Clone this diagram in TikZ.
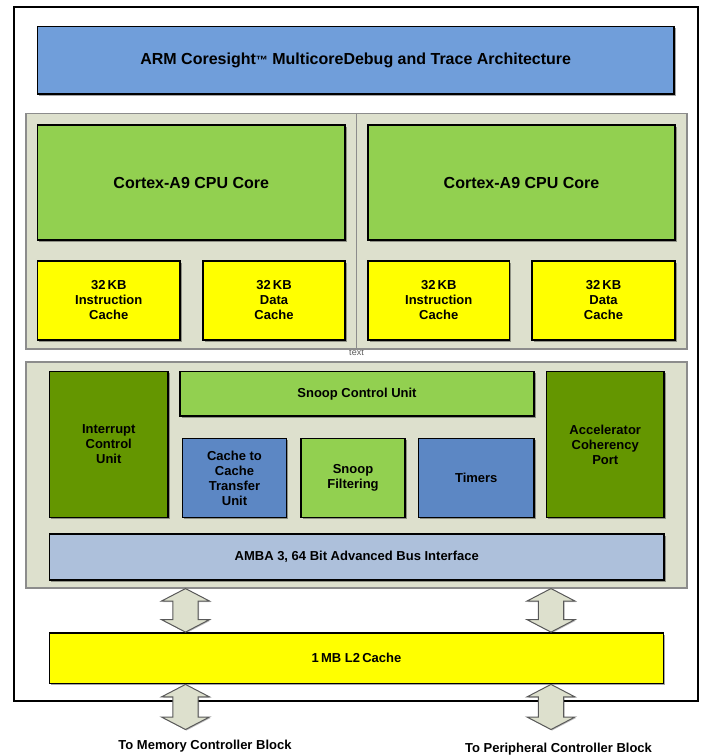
\documentclass[tikz,border=0pt]{standalone}
\usepackage{fontspec}
\setmainfont{Liberation Sans}
\usetikzlibrary{calc,shadows}
\definecolor{titleblue}{RGB}{112,158,218}
\definecolor{cpugreen}{RGB}{146,208,80}
\definecolor{darkgreen}{RGB}{100,150,0}
\definecolor{midblue}{RGB}{92,135,196}
\definecolor{ambablue}{RGB}{173,192,219}
\definecolor{panelgray}{RGB}{221,224,205}
\definecolor{cacheyellow}{RGB}{255,255,0}
\tikzset{
  blk/.style={draw=black, line width=1.8pt, inner sep=2pt, align=center,
    font=\bfseries\fontsize{13}{15}\selectfont, text=black,
    drop shadow={shadow xshift=1.5pt, shadow yshift=-1.5pt, opacity=0.35, fill=black}},
  bigtext/.style={font=\bfseries\fontsize{16}{18}\selectfont},
  panel/.style={draw=black!45, line width=1.1pt, fill=panelgray, inner sep=0pt},
  bigarr/.style={draw=black!65, line width=1pt, fill=panelgray,
    drop shadow={shadow xshift=1pt, shadow yshift=-1pt, opacity=0.25, fill=black}},
  lbl/.style={font=\bfseries\fontsize{13}{15}\selectfont, inner sep=0pt},
}
\newcommand\dblarrow[2]{%
  \draw[bigarr] (#1) -- ($(#1)+(24,12.5)$) -- ($(#1)+(12.7,12.5)$)
    -- ($(#2)+(12.7,-12.5)$) -- ($(#2)+(24,-12.5)$) -- (#2)
    -- ($(#2)+(-24,-12.5)$) -- ($(#2)+(-12.7,-12.5)$)
    -- ($(#1)+(-12.7,12.5)$) -- ($(#1)+(-24,12.5)$) -- cycle;}
\begin{document}
\begin{tikzpicture}[x=1pt,y=-1pt]
\useasboundingbox (0,0) rectangle (704,756);
% outer frame
\node[draw=black, line width=1.7pt, minimum width=684pt, minimum height=694pt, inner sep=0pt] (frame) at (356,354) {};
% stray label under the CPU panel
\node[font=\fontsize{9}{10}\selectfont, text=black!65, inner sep=0pt] (txt) at (356.5,352.5) {text};
% title
\node[blk, bigtext, fill=titleblue, minimum width=636.5pt, minimum height=67.5pt] (title) at (355.75,60.25) {ARM Coresight{\fontsize{12}{12}\selectfont ™} MulticoreDebug and Trace Architecture};
% CPU panel
\node[panel, minimum width=661pt, minimum height=235.5pt] (cpupanel) at (356.5,231.25) {};
\draw[draw=black!45, line width=1.1pt] (cpupanel.north) -- (cpupanel.south);
% CPU cores
\node[blk, bigtext, fill=cpugreen, minimum width=307.5pt, minimum height=115pt] (core1) at (191.25,182.5) {Cortex-A9 CPU Core};
\node[blk, bigtext, fill=cpugreen, minimum width=307pt, minimum height=115pt] (core2) at (521.5,182.5) {Cortex-A9 CPU Core};
% caches
\node[blk, fill=cacheyellow, minimum width=142.5pt, minimum height=79pt] (ic1) at (108.75,300.5) {32\,KB\\Instruction\\Cache};
\node[blk, fill=cacheyellow, minimum width=142pt, minimum height=79pt] (dc1) at (274,300.5) {32\,KB\\Data\\Cache};
\node[blk, fill=cacheyellow, minimum width=141.5pt, minimum height=79pt] (ic2) at (438.75,300.5) {32\,KB\\Instruction\\Cache};
\node[blk, fill=cacheyellow, minimum width=143pt, minimum height=79pt] (dc2) at (603.5,300.5) {32\,KB\\Data\\Cache};
% SCU panel
\node[panel, minimum width=661pt, minimum height=226pt] (scupanel) at (356.5,475) {};
\node[blk, fill=darkgreen, minimum width=118.5pt, minimum height=146pt] (icu) at (108.75,444.5) {Interrupt\\Control\\Unit};
\node[blk, fill=cpugreen, minimum width=354pt, minimum height=44.5pt] (scu) at (357,393.75) {Snoop Control Unit};
\node[blk, fill=midblue, minimum width=104pt, minimum height=79pt] (c2c) at (234.5,478) {Cache to\\Cache\\Transfer\\Unit};
\node[blk, fill=cpugreen, minimum width=104pt, minimum height=79pt] (sf) at (353,478) {Snoop\\Filtering};
\node[blk, fill=midblue, minimum width=115.5pt, minimum height=79pt] (tim) at (476.25,478) {Timers};
\node[blk, fill=darkgreen, minimum width=117.5pt, minimum height=146pt] (acp) at (605.25,444.5) {Accelerator\\Coherency\\Port};
\node[blk, fill=ambablue, minimum width=614.5pt, minimum height=46pt] (amba) at (356.75,557) {AMBA 3, 64 Bit Advanced Bus Interface};
% L2
\node[blk, fill=cacheyellow, minimum width=614pt, minimum height=50.5pt] (l2) at (356.5,658.25) {1\,MB L2\,Cache};
% arrows
\coordinate (xl) at (185.5,0);
\coordinate (xr) at (551,0);
\coordinate (a1t) at (scupanel.south -| xl);
\coordinate (a1b) at (l2.north -| xl);
\coordinate (a2t) at (scupanel.south -| xr);
\coordinate (a2b) at (l2.north -| xr);
\coordinate (a3t) at (l2.south -| xl);
\coordinate (a3b) at (185.5,729.5);
\coordinate (a4t) at (l2.south -| xr);
\coordinate (a4b) at (551,729.5);
\dblarrow{a1t}{a1b}
\dblarrow{a2t}{a2b}
\dblarrow{a3t}{a3b}
\dblarrow{a4t}{a4b}
% bottom labels
\node[lbl] (mem) at (205,746) {To Memory Controller Block};
\node[lbl] (per) at (558.5,749) {To Peripheral Controller Block};
\end{tikzpicture}
\end{document}
